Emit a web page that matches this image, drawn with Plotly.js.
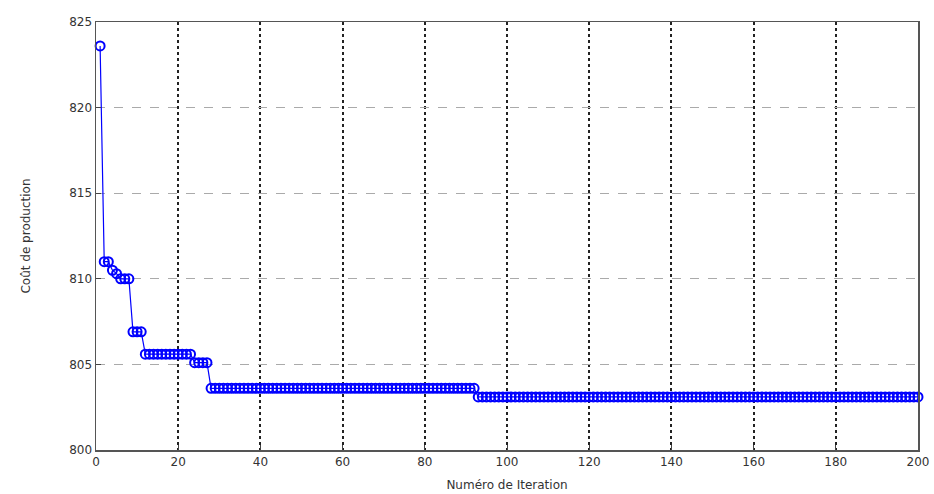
<!DOCTYPE html>
<html>
<head>
<meta charset="utf-8">
<script src="https://cdn.plot.ly/plotly-3.0.1.min.js"></script>
<style>html,body{margin:0;padding:0;background:#fff;}#chart{width:934px;height:494px;}</style>
</head>
<body>
<div id="chart"></div>
<script>
// Iteration numbers 1..200 and cost values
const costValues = [
823.6, 811.0, 811.0, 810.5, 810.3, 810.0, 810.0, 810.0, 806.9, 806.9,
806.9, 805.6, 805.6, 805.6, 805.6, 805.6, 805.6, 805.6, 805.6, 805.6,
805.6, 805.6, 805.6, 805.1, 805.1, 805.1, 805.1, 803.6, 803.6, 803.6,
803.6, 803.6, 803.6, 803.6, 803.6, 803.6, 803.6, 803.6, 803.6, 803.6,
803.6, 803.6, 803.6, 803.6, 803.6, 803.6, 803.6, 803.6, 803.6, 803.6,
803.6, 803.6, 803.6, 803.6, 803.6, 803.6, 803.6, 803.6, 803.6, 803.6,
803.6, 803.6, 803.6, 803.6, 803.6, 803.6, 803.6, 803.6, 803.6, 803.6,
803.6, 803.6, 803.6, 803.6, 803.6, 803.6, 803.6, 803.6, 803.6, 803.6,
803.6, 803.6, 803.6, 803.6, 803.6, 803.6, 803.6, 803.6, 803.6, 803.6,
803.6, 803.6, 803.1, 803.1, 803.1, 803.1, 803.1, 803.1, 803.1, 803.1,
803.1, 803.1, 803.1, 803.1, 803.1, 803.1, 803.1, 803.1, 803.1, 803.1,
803.1, 803.1, 803.1, 803.1, 803.1, 803.1, 803.1, 803.1, 803.1, 803.1,
803.1, 803.1, 803.1, 803.1, 803.1, 803.1, 803.1, 803.1, 803.1, 803.1,
803.1, 803.1, 803.1, 803.1, 803.1, 803.1, 803.1, 803.1, 803.1, 803.1,
803.1, 803.1, 803.1, 803.1, 803.1, 803.1, 803.1, 803.1, 803.1, 803.1,
803.1, 803.1, 803.1, 803.1, 803.1, 803.1, 803.1, 803.1, 803.1, 803.1,
803.1, 803.1, 803.1, 803.1, 803.1, 803.1, 803.1, 803.1, 803.1, 803.1,
803.1, 803.1, 803.1, 803.1, 803.1, 803.1, 803.1, 803.1, 803.1, 803.1,
803.1, 803.1, 803.1, 803.1, 803.1, 803.1, 803.1, 803.1, 803.1, 803.1,
803.1, 803.1, 803.1, 803.1, 803.1, 803.1, 803.1, 803.1, 803.1, 803.1
];
const iterations = costValues.map((_, i) => i + 1);
const xTicks = [0, 20, 40, 60, 80, 100, 120, 140, 160, 180, 200];
const yTicks = [800, 805, 810, 815, 820, 825];

const trace = {
  x: iterations,
  y: costValues,
  type: 'scatter',
  mode: 'lines+markers',
  line: {color: '#0000ff', width: 1.2},
  marker: {symbol: 'circle-open', size: 9, color: '#0000ff', line: {width: 2, color: '#0000ff'}},
  cliponaxis: false,
  hoverinfo: 'x+y'
};

const axisCommon = {
  showline: true, mirror: true, linecolor: '#555', linewidth: 1.5,
  ticks: 'inside', ticklen: 5, tickcolor: '#444',
  zeroline: false,
  ticklabeloverflow: 'allow',
  tickfont: {family: 'DejaVu Sans, Arial', size: 12, color: '#333'}
};

const layout = {
  width: 934, height: 494,
  margin: {l: 96, r: 16, t: 22, b: 44},
  paper_bgcolor: '#fff', plot_bgcolor: '#fff',
  showlegend: false,
  xaxis: Object.assign({}, axisCommon, {
    range: [0, 200], tickvals: xTicks, ticktext: xTicks.map(String),
    showgrid: true, gridcolor: '#222', griddash: 'dot', gridwidth: 2,
    title: {text: 'Numéro de Iteration', font: {family: 'DejaVu Sans, Arial', size: 12, color: '#333'}, standoff: 12}
  }),
  yaxis: Object.assign({}, axisCommon, {
    range: [800, 825], tickvals: yTicks, ticktext: yTicks.map(String),
    showgrid: true, gridcolor: '#aaa', griddash: 'dash', gridwidth: 1,
    title: {text: 'Coût de production', font: {family: 'DejaVu Sans, Arial', size: 12, color: '#333'}, standoff: 36}
  })
};

Plotly.newPlot('chart', [trace], layout, {displayModeBar: false, staticPlot: true});
</script>
</body>
</html>
